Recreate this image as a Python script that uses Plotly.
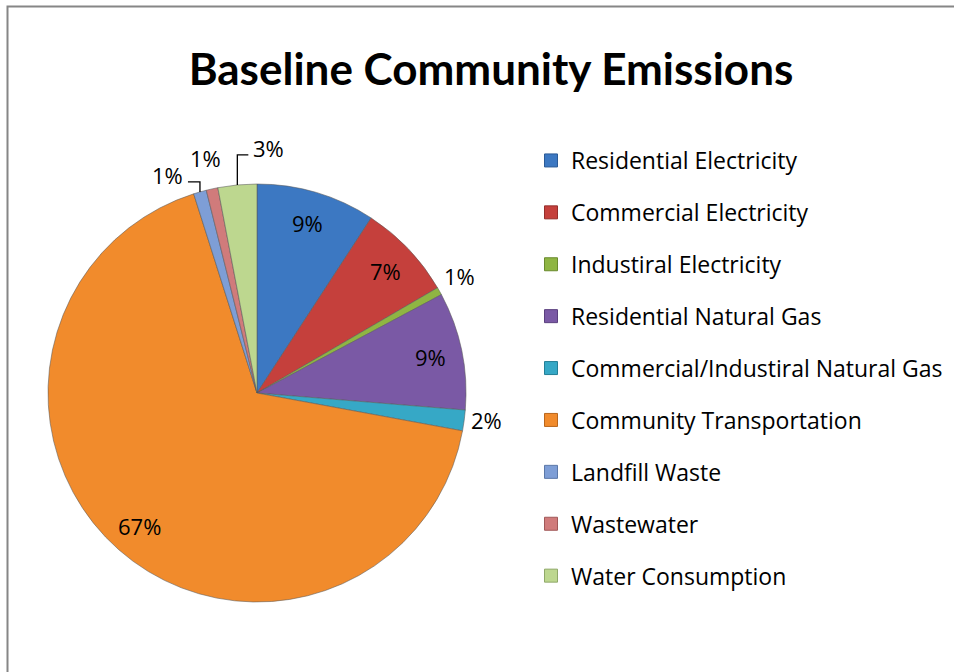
import math
import plotly.graph_objects as go

# Emission sources, share of the community total (%)
sources = [
    "Residential Electricity",
    "Commercial Electricity",
    "Industiral Electricity",
    "Residential Natural Gas",
    "Commercial/Industiral Natural Gas",
    "Community Transportation",
    "Landfill Waste",
    "Wastewater",
    "Water Consumption",
]
shares = [9.2, 7.4, 0.6, 9.1, 1.6, 67.2, 1.0, 0.9, 3.0]
colors = ["#3C78C2", "#C5403C", "#8FB543", "#7A59A5", "#36A8C6",
          "#F18B2C", "#7E9ED6", "#D07B7B", "#BDD78F"]
edge_colors = ["#2A5A96", "#952E2B", "#6A8A2E", "#5A3F7E", "#237F97",
               "#B9661C", "#5B78A8", "#A05858", "#8FA868"]

# label placement: "in" = inside, "out" = just outside, "lead" = with leader line
placement = ["in", "in", "out", "in", "out", "in", "lead", "out", "lead"]

W, H = 954, 672
cx, cy, R = 257, 393, 209        # pie centre and radius in pixels
TITLE_FONT = "Lato, 'Open Sans', sans-serif"
FONT = "'Open Sans', 'Noto Sans', sans-serif"


def px(x, y):
    return x / W, 1 - y / H


fig = go.Figure()
fig.add_trace(go.Pie(
    labels=sources,
    values=shares,
    sort=False,
    direction="clockwise",
    rotation=0,
    textinfo="none",
    hoverinfo="label+percent",
    showlegend=False,
    marker=dict(colors=colors, line=dict(color="rgba(90,90,90,0.55)", width=1)),
    domain=dict(x=[(cx - R) / W, (cx + R) / W], y=[1 - (cy + R) / H, 1 - (cy - R) / H]),
))

# legend entries, one group each so the rows are spaced apart
for name, c, ec in zip(sources, colors, edge_colors):
    fig.add_trace(go.Scatter(
        x=[None], y=[None], mode="markers", name=name, legendgroup=name,
        marker=dict(symbol="square", size=13, color=c, line=dict(color=ec, width=1)),
    ))

total = sum(shares)
annotations = []
shapes = []
cum = 0.0
for name, v, where in zip(sources, shares, placement):
    mid = (cum + v / 2) / total * 2 * math.pi
    cum += v
    text = f"{round(v / total * 100)}%"
    sx, sy = math.sin(mid), -math.cos(mid)
    if where == "in":
        x, y = cx + 0.85 * R * sx, cy + 0.85 * R * sy
        annotations.append(dict(x=px(x, y)[0], y=px(x, y)[1], text=text, showarrow=False,
                                xanchor="center", yanchor="middle"))
    elif where == "out":
        f = 1.11 if sx > 0 else 1.15
        x, y = cx + f * R * sx, cy + f * R * sy
        if sx > 0:
            y -= 4
        annotations.append(dict(x=px(x, y)[0], y=px(x, y)[1], text=text, showarrow=False,
                                xanchor="center", yanchor="middle"))
    else:
        # elbow leader: up from the rim, then sideways to the label
        ax, ay = cx + R * sx, cy + R * sy
        rise = 10 if sx < -0.2 else 30
        run = -12 if sx < -0.2 else 11
        ex, ey = ax, ay - rise
        hx = ex + run
        p = [px(ax, ay), px(ex, ey), px(hx, ey)]
        shapes.append(dict(type="path", xref="paper", yref="paper",
                           path=f"M {p[0][0]},{p[0][1]} L {p[1][0]},{p[1][1]} L {p[2][0]},{p[2][1]}",
                           line=dict(color="black", width=1.3)))
        tx = hx - 3 if run < 0 else hx + 3
        tp = px(tx, ey - 7)
        annotations.append(dict(x=tp[0], y=tp[1], text=text, showarrow=False,
                                xanchor="right" if run < 0 else "left", yanchor="middle"))

for a in annotations:
    a.update(xref="paper", yref="paper", font=dict(family=FONT, size=22, color="black"))

# outer chart frame
shapes.append(dict(type="rect", xref="paper", yref="paper",
                   x0=7.5 / W, y0=-0.05, x1=1.05, y1=1 - 6.5 / H,
                   line=dict(color="#868686", width=2), fillcolor="rgba(0,0,0,0)"))

fig.update_layout(
    width=W, height=H,
    margin=dict(l=0, r=0, t=0, b=0),
    paper_bgcolor="white",
    plot_bgcolor="white",
    title=dict(text="<b>Baseline Community Emissions</b>", x=491 / W, xanchor="center",
               y=1 - 70 / H, yanchor="middle",
               font=dict(family=TITLE_FONT, size=44, color="black")),
    xaxis=dict(visible=False),
    yaxis=dict(visible=False),
    legend=dict(x=531 / W, y=1 - 139 / H, xanchor="left", yanchor="top",
                font=dict(family=FONT, size=23, color="black"),
                tracegroupgap=19, bgcolor="rgba(0,0,0,0)"),
    annotations=annotations,
    shapes=shapes,
)

fig.write_html("out.html")
